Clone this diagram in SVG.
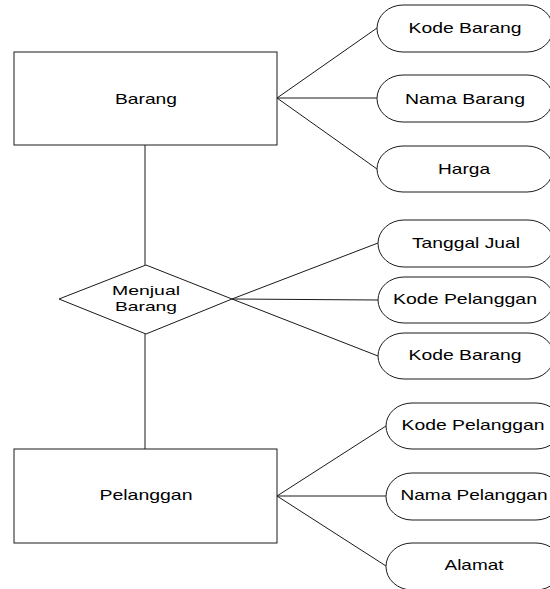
<svg xmlns="http://www.w3.org/2000/svg" width="550" height="589" viewBox="0 0 550 589">
<style>
.s{fill:#fff;stroke:#1a1a1a;stroke-width:1}
.c line{stroke:#1a1a1a;stroke-width:1}
text{font-family:"Liberation Sans",Arial,sans-serif;font-size:15px;fill:#000;text-anchor:middle}
text.d{font-size:13px}
</style>
<rect width="550" height="589" fill="#fff"/>
<g class="c" id="connectors">
<line x1="145" y1="145" x2="145" y2="265"/>
<line x1="145" y1="334" x2="145" y2="449"/>
<line x1="277" y1="98" x2="377" y2="28"/>
<line x1="277" y1="98" x2="377" y2="98"/>
<line x1="277" y1="98" x2="377" y2="169"/>
<line x1="232" y1="299" x2="378" y2="243"/>
<line x1="232" y1="299" x2="378" y2="300"/>
<line x1="232" y1="299" x2="378" y2="356"/>
<line x1="277" y1="496" x2="386" y2="426"/>
<line x1="277" y1="496" x2="386" y2="496"/>
<line x1="277" y1="496" x2="386" y2="566"/>
</g>
<g id="barang"><rect class="s" x="14" y="52" width="263" height="93"/><text x="146" y="104" textLength="62" lengthAdjust="spacingAndGlyphs">Barang</text></g>
<g id="pelanggan"><rect class="s" x="14" y="449" width="263" height="94"/><text x="146" y="500" textLength="93" lengthAdjust="spacingAndGlyphs">Pelanggan</text></g>
<g id="menjual"><polygon class="s" points="59,299 146,265 232,299 146,334"/><text class="d" x="146" y="295" textLength="68" lengthAdjust="spacingAndGlyphs">Menjual</text><text class="d" x="146" y="311" textLength="62" lengthAdjust="spacingAndGlyphs">Barang</text></g>
<g id="attr-kode-barang"><rect class="s" x="377" y="5" width="176" height="47" rx="26" ry="23.5"/><text x="465" y="33" textLength="113" lengthAdjust="spacingAndGlyphs">Kode Barang</text></g>
<g id="attr-nama-barang"><rect class="s" x="377" y="75" width="176" height="47" rx="26" ry="23.5"/><text x="465" y="103.5" textLength="120" lengthAdjust="spacingAndGlyphs">Nama Barang</text></g>
<g id="attr-harga"><rect class="s" x="377" y="146" width="176" height="46" rx="26" ry="23"/><text x="464" y="173.5" textLength="52" lengthAdjust="spacingAndGlyphs">Harga</text></g>
<g id="attr-tanggal-jual"><rect class="s" x="378" y="220" width="176" height="47" rx="26" ry="23.5"/><text x="466" y="248" textLength="108" lengthAdjust="spacingAndGlyphs">Tanggal Jual</text></g>
<g id="attr-kode-pelanggan-1"><rect class="s" x="378" y="277" width="176" height="46" rx="26" ry="23"/><text x="465" y="304" textLength="144" lengthAdjust="spacingAndGlyphs">Kode Pelanggan</text></g>
<g id="attr-kode-barang-2"><rect class="s" x="378" y="333" width="176" height="46" rx="26" ry="23"/><text x="465" y="360" textLength="113" lengthAdjust="spacingAndGlyphs">Kode Barang</text></g>
<g id="attr-kode-pelanggan-2"><rect class="s" x="386" y="403" width="176" height="46" rx="26" ry="23"/><text x="473" y="430" textLength="143" lengthAdjust="spacingAndGlyphs">Kode Pelanggan</text></g>
<g id="attr-nama-pelanggan"><rect class="s" x="386" y="473" width="176" height="47" rx="26" ry="23.5"/><text x="474" y="500" textLength="147" lengthAdjust="spacingAndGlyphs">Nama Pelanggan</text></g>
<g id="attr-alamat"><rect class="s" x="386" y="543" width="176" height="47" rx="26" ry="23.5"/><text x="474" y="570" textLength="59" lengthAdjust="spacingAndGlyphs">Alamat</text></g>
</svg>
